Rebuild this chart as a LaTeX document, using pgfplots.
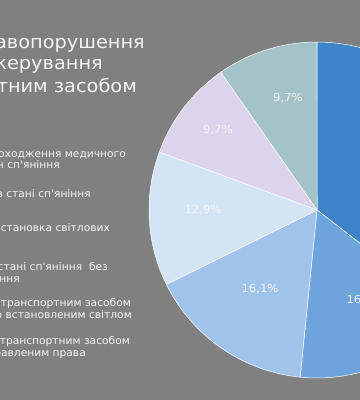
\documentclass[border=0pt]{standalone}
\usepackage{pgfplots}
\pgfplotsset{compat=1.18}
\usepackage{fontspec}
\setmainfont{DejaVu Sans}
\newfontfamily\wide[FakeStretch=1.06]{DejaVu Sans}
\newfontfamily\legf[FakeStretch=1.02]{DejaVu Sans}
\definecolor{bg}{HTML}{808080}
\definecolor{cA}{HTML}{3E84C8}
\definecolor{cB}{HTML}{6EA4DC}
\definecolor{cC}{HTML}{A0C4E9}
\definecolor{cD}{HTML}{D3E4F4}
\definecolor{cE}{HTML}{DCD4EA}
\definecolor{cF}{HTML}{A4C3C8}
\definecolor{txt}{HTML}{F4F4F4}
% shares (%), clockwise from 12 o'clock
\def\vA{35.5}\def\vB{16.1}\def\vC{16.1}\def\vD{12.9}\def\vE{9.7}\def\vF{9.7}
\begin{document}
\begin{tikzpicture}[x=1bp,y=1bp]
\useasboundingbox (0,0) rectangle (360,400);
\clip (0,0) rectangle (360,400);
\fill[bg] (0,0) rectangle (360,400);
\pgfmathsetmacro\aA{0}
\pgfmathsetmacro\aB{\aA+3.6*\vA}
\pgfmathsetmacro\aC{\aB+3.6*\vB}
\pgfmathsetmacro\aD{\aC+3.6*\vC}
\pgfmathsetmacro\aE{\aD+3.6*\vD}
\pgfmathsetmacro\aF{\aE+3.6*\vE}
\pgfmathsetmacro\aG{360}
\begin{axis}[at={(317,190)}, anchor=center, hide axis, scale only axis,
  x=1bp, y=1bp, xmin=-170, xmax=170, ymin=-170, ymax=170, clip=false]
\addplot[fill=cA, draw=white, line width=0.5pt, domain=\aA:\aB, samples=80, variable=\t] ({168*sin(\t)},{168*cos(\t)}) -- (axis cs:0,0) -- cycle;
\addplot[fill=cB, draw=white, line width=0.5pt, domain=\aB:\aC, samples=50, variable=\t] ({168*sin(\t)},{168*cos(\t)}) -- (axis cs:0,0) -- cycle;
\addplot[fill=cC, draw=white, line width=0.5pt, domain=\aC:\aD, samples=50, variable=\t] ({168*sin(\t)},{168*cos(\t)}) -- (axis cs:0,0) -- cycle;
\addplot[fill=cD, draw=white, line width=0.5pt, domain=\aD:\aE, samples=50, variable=\t] ({168*sin(\t)},{168*cos(\t)}) -- (axis cs:0,0) -- cycle;
\addplot[fill=cE, draw=white, line width=0.5pt, domain=\aE:\aF, samples=50, variable=\t] ({168*sin(\t)},{168*cos(\t)}) -- (axis cs:0,0) -- cycle;
\addplot[fill=cF, draw=white, line width=0.5pt, domain=\aF:\aG, samples=50, variable=\t] ({168*sin(\t)},{168*cos(\t)}) -- (axis cs:0,0) -- cycle;
\begin{scope}[every node/.style={text=txt, font=\wide\fontsize{11}{13}\selectfont}]
\node at (axis cs:-29,112) {9,7\%};
\node at (axis cs:-99,80) {9,7\%};
\node at (axis cs:-114,0) {12,9\%};
\node at (axis cs:-57,-79) {16,1\%};
\node at (axis cs:48,-90) {16,1\%};
\node at (axis cs:90,60) {35,5\%};
\end{scope}
\end{axis}
\begin{scope}[every node/.style={text=txt, inner sep=0pt, anchor=base east}]
\begin{scope}[font=\wide\fontsize{18.3}{21}\selectfont]
\node at (145,352) {Правопорушення};
\node at (103,331) {під час\hspace{20pt} керування};
\node at (137,308) {транспортним засобом};
\end{scope}
\begin{scope}[font=\legf\fontsize{10.5}{12}\selectfont]
\node at (126,242.5) {Відмова від проходження медичного};
\node at (60,231.5) {огляду на стан сп'яніння};
\node at (91,202.5) {Керування в стані сп'яніння};
\node at (110,168.5) {Незаконна установка світлових};
\node at (108,129.5) {Керування в стані сп'яніння\ \ без};
\node at (20,118) {посвідчення};
\node at (131,93.5) {Керування транспортним засобом};
\node at (132,82) {з незаконно встановленим світлом};
\node at (130,55.5) {Керування транспортним засобом};
\node at (86,44) {особою, позбавленим права};
\end{scope}
\end{scope}
\end{tikzpicture}
\end{document}
